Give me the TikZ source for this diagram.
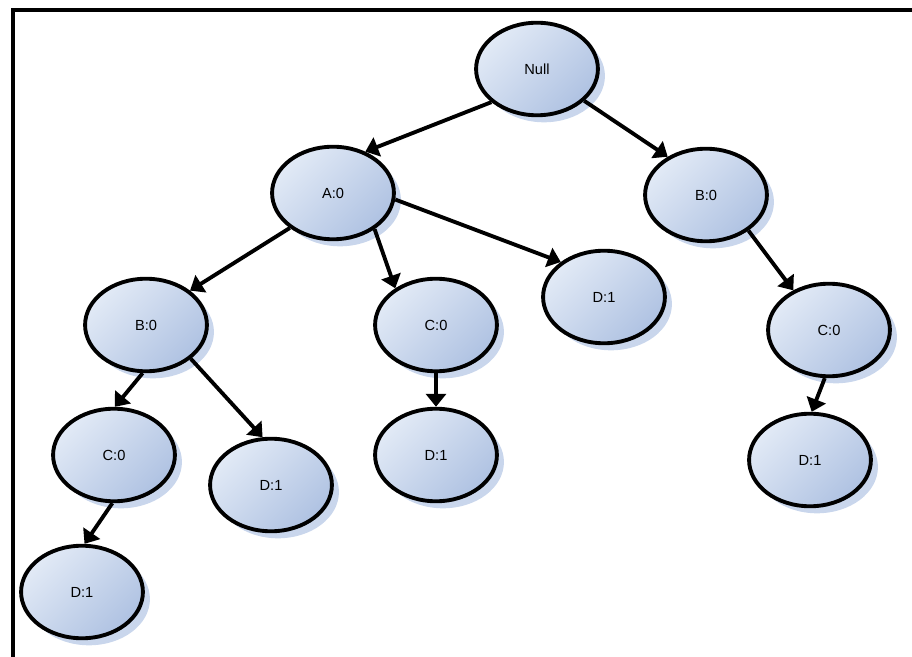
\documentclass[tikz,border=0pt]{standalone}
\usepackage{fontspec}
\setmainfont{Liberation Sans}
\usepackage{tikz}
\usetikzlibrary{arrows.meta,shapes.geometric,shadows}

\definecolor{nodetop}{HTML}{E2EAF6}
\definecolor{nodebot}{HTML}{AFC2E2}
\definecolor{shadowblue}{HTML}{C9D6EC}

\begin{document}
\begin{tikzpicture}[x=0.03cm,y=-0.03cm,->,>={Triangle[length=11pt,width=17pt]},
  line width=3.3pt,
  main node/.style={ellipse,draw,minimum width=104pt,minimum height=79pt,
    top color=nodetop,bottom color=nodebot,shading angle=45,
    drop shadow={shadow xshift=6pt,shadow yshift=-6pt,fill=shadowblue,opacity=1},
    font=\fontsize{12.5}{14}\selectfont},
  tree edge/.style={preaction={draw=shadowblue,-,transform canvas={shift={(6pt,-6pt)}}}}]

  \useasboundingbox (0,0) rectangle (912,657);
  \draw[-,line cap=rect] (13,657) |- (912,10);

  \node[main node] (1) at (537,69) {Null};
  \node[main node] (2) at (333,193) {A:0};
  \node[main node] (3) at (706,195) {B:0};
  \node[main node] (4) at (146,325) {B:0};
  \node[main node] (5) at (436,325) {C:0};
  \node[main node] (6) at (604,297) {D:1};
  \node[main node] (7) at (829,330) {C:0};
  \node[main node] (8) at (114,455) {C:0};
  \node[main node] (9) at (271,485) {D:1};
  \node[main node] (10) at (436,455) {D:1};
  \node[main node] (11) at (810,460) {D:1};
  \node[main node] (12) at (82,592) {D:1};

  \path[tree edge]
    (1.216) edge (2.52)
    (1.326) edge (3.135)
    (2.219) edge (4.38)
    (2.319) edge (5.138)
    (2.354) edge (6.141)
    (3.320) edge (7.132)
    (4.266) edge (8.89)
    (4.323) edge (9.100)
    (5.270) edge (10.90)
    (7.265) edge (11.88)
    (8.268) edge (12.87);
\end{tikzpicture}
\end{document}
